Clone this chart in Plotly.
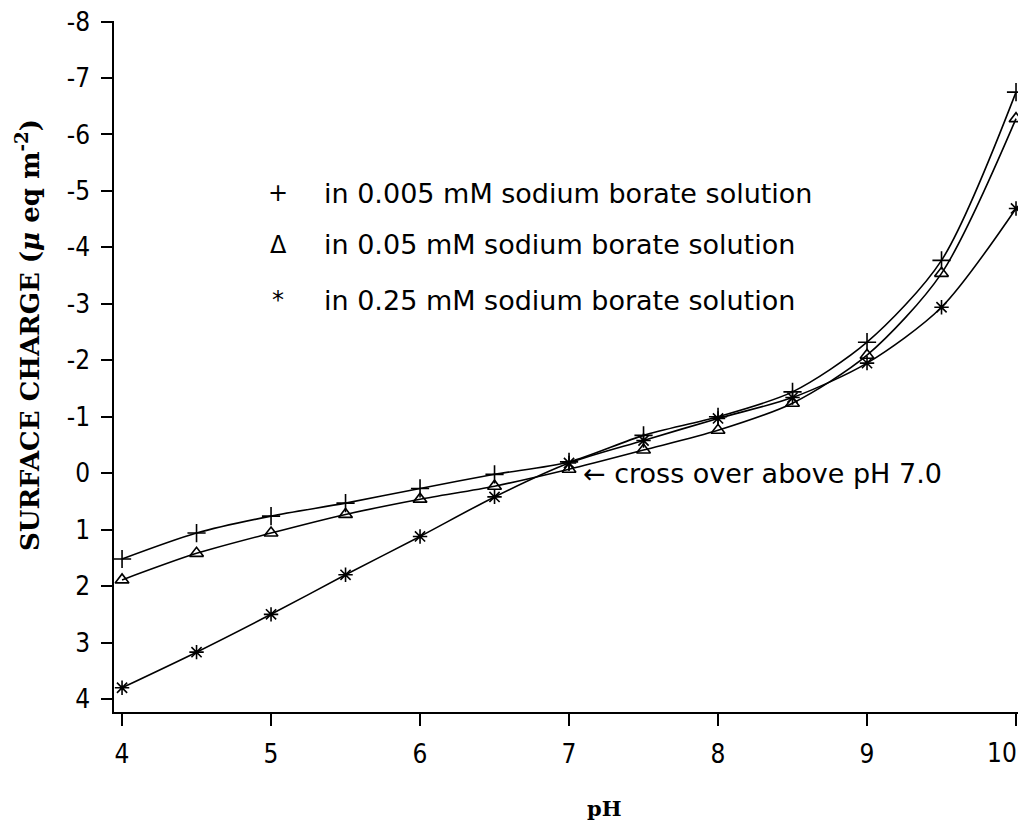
import plotly.graph_objects as go

ph = [4.0, 4.5, 5.0, 5.5, 6.0, 6.5, 7.0, 7.5, 8.0, 8.5, 9.0, 9.5, 10.0]
charge_0005 = [1.52, 1.06, 0.76, 0.53, 0.27, 0.02, -0.20, -0.67, -1.00, -1.44, -2.32, -3.77, -6.75]
charge_005 = [1.89, 1.42, 1.06, 0.73, 0.46, 0.23, -0.07, -0.41, -0.76, -1.24, -2.09, -3.54, -6.28]
charge_025 = [3.80, 3.17, 2.50, 1.80, 1.12, 0.42, -0.18, -0.58, -0.97, -1.34, -1.95, -2.94, -4.69]

series_names = [
    "in 0.005 mM sodium borate solution",
    "in 0.05 mM sodium borate solution",
    "in 0.25 mM sodium borate solution",
]
legend_symbols = ["+", "Δ", "*"]

y_tickvals = [-8, -7, -6, -5, -4, -3, -2, -1, 0, 1, 2, 3, 4]
y_ticktext = ["-8", "-7", "-6", "-5", "-4", "-3", "-2", "-1", "0", "1", "2", "3", "4"]
x_tickvals = [4, 5, 6, 7, 8, 9, 10]
x_ticktext = ["4", "5", "6", "7", "8", "9", "10"]

label_font = "Liberation Sans Narrow, DejaVu Sans Condensed, DejaVu Sans, sans-serif"
text_font = "DejaVu Sans, sans-serif"
serif_font = "DejaVu Serif, Liberation Serif, serif"

fig = go.Figure()
marker_styles = [
    dict(symbol="cross-thin-open", size=13, line=dict(width=1.6, color="black"), color="black"),
    dict(symbol="triangle-up-open", size=12, line=dict(width=1.6, color="black"), color="black"),
    dict(symbol="asterisk-open", size=12, line=dict(width=1.6, color="black"), color="black"),
]
for name, ys, mk in zip(series_names, [charge_0005, charge_005, charge_025], marker_styles):
    fig.add_trace(go.Scatter(
        x=ph, y=ys, name=name, mode="lines+markers",
        line=dict(color="black", width=1.6, shape="spline", smoothing=0.8),
        marker=mk, showlegend=False, cliponaxis=False,
    ))

# legend drawn as text
legend_y = [0.751, 0.676, 0.596]
for sym, name, yy in zip(legend_symbols, series_names, legend_y):
    fig.add_annotation(xref="paper", yref="paper", x=0.180, y=yy, text=sym,
                       showarrow=False, xanchor="center", yanchor="middle",
                       font=dict(family=text_font, size=24, color="black"))
    fig.add_annotation(xref="paper", yref="paper", x=0.228, y=yy, text=name,
                       showarrow=False, xanchor="left", yanchor="middle",
                       font=dict(family=text_font, size=27, color="black"))

fig.add_annotation(x=7.08, y=0.0, xref="x", yref="y", text="← cross over above pH 7.0",
                   showarrow=False, xanchor="left", yanchor="middle",
                   font=dict(family=text_font, size=27, color="black"))

fig.add_annotation(xref="paper", yref="paper", x=-0.095, y=0.546, textangle=-90,
                   text="<b>SURFACE CHARGE (<i>μ</i> eq m<sup>-2</sup>)</b>",
                   showarrow=False, xanchor="center", yanchor="middle",
                   font=dict(family=serif_font, size=26, color="black"))
fig.add_annotation(xref="paper", yref="paper", x=0.538, y=-0.139, text="<b>pH</b>",
                   showarrow=False, xanchor="center", yanchor="middle",
                   font=dict(family=serif_font, size=21, color="black"))

# last x tick label placed so it stays inside the visible page (as in the original)
fig.add_annotation(xref="x", yref="paper", x=x_tickvals[-1], y=-0.059, text=x_ticktext[-1],
                   showarrow=False, xanchor="right", yanchor="middle", xshift=3,
                   font=dict(family=label_font, size=26, color="black"))

fig.update_layout(
    width=1018, height=815,
    margin=dict(l=106, r=0, t=13, b=111, autoexpand=False),
    paper_bgcolor="white", plot_bgcolor="white",
    showlegend=False,
)
fig.update_xaxes(
    range=[3.946, 10.067], tickvals=x_tickvals, ticktext=x_ticktext[:-1] + [""],
    showgrid=False, zeroline=False, showline=True, linecolor="black", linewidth=1.5,
    ticks="outside", ticklen=12, tickwidth=1.5, tickcolor="black", ticklabelstandoff=6,
    ticklabeloverflow="allow", automargin=False,
    tickfont=dict(family=label_font, size=26, color="black"),
)
fig.update_yaxes(
    range=[4.23, -8.01], tickvals=y_tickvals, ticktext=y_ticktext,
    showgrid=False, zeroline=False, showline=True, linecolor="black", linewidth=1.5,
    ticks="outside", ticklen=11, tickwidth=1.5, tickcolor="black", ticklabelstandoff=6,
    ticklabeloverflow="allow", automargin=False,
    tickfont=dict(family=label_font, size=26, color="black"),
)

fig.write_html("out.html")
